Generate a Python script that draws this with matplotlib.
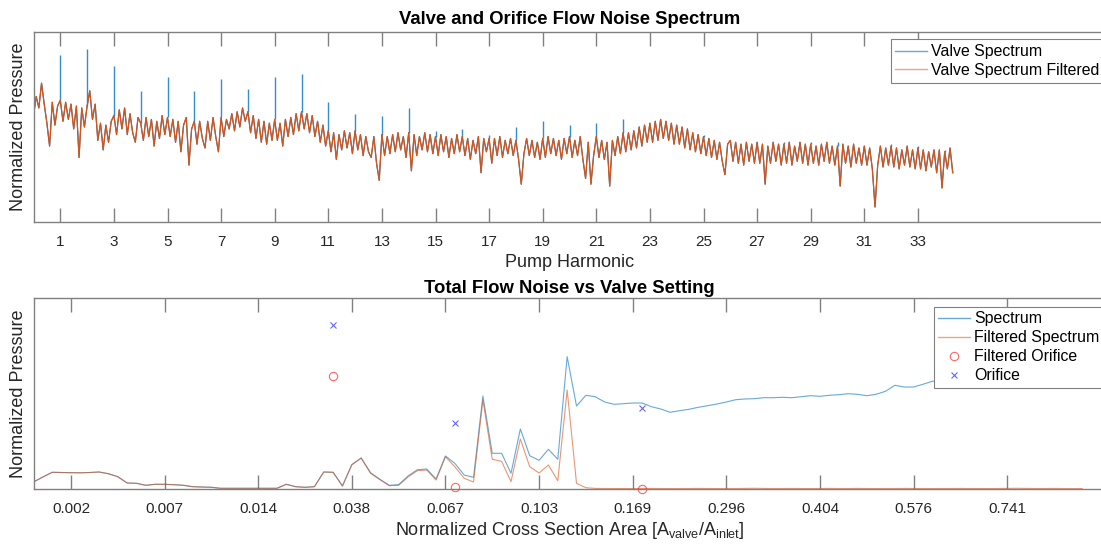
import numpy as np
import matplotlib.pyplot as plt

plt.rcParams['font.family'] = ['Liberation Sans', 'DejaVu Sans']
plt.rcParams['mathtext.fontset'] = 'custom'
plt.rcParams['mathtext.rm'] = 'Liberation Sans'
plt.rcParams['mathtext.it'] = 'Liberation Sans:italic'

# ---- top panel: filtered spectrum sampled every 0.1 pump harmonic (one row per harmonic)
harmonic_step = 0.1
valve_filtered = [
    0.56, 0.66, 0.60, 0.73, 0.62, 0.52, 0.40, 0.63, 0.51, 0.61,
    0.64, 0.53, 0.63, 0.54, 0.62, 0.49, 0.61, 0.34, 0.60, 0.50,
    0.61, 0.69, 0.54, 0.62, 0.43, 0.52, 0.38, 0.51, 0.42, 0.53,
    0.56, 0.46, 0.59, 0.49, 0.60, 0.46, 0.57, 0.47, 0.42, 0.55,
    0.52, 0.43, 0.55, 0.45, 0.54, 0.40, 0.53, 0.44, 0.56, 0.46,
    0.55, 0.45, 0.54, 0.42, 0.53, 0.37, 0.51, 0.55, 0.30, 0.49,
    0.53, 0.41, 0.53, 0.44, 0.39, 0.53, 0.43, 0.55, 0.45, 0.37,
    0.55, 0.45, 0.54, 0.49, 0.57, 0.48, 0.58, 0.50, 0.60, 0.53,
    0.58, 0.47, 0.56, 0.44, 0.54, 0.42, 0.53, 0.41, 0.52, 0.43,
    0.54, 0.43, 0.52, 0.40, 0.54, 0.45, 0.55, 0.46, 0.57, 0.48,
    0.58, 0.49, 0.57, 0.47, 0.56, 0.45, 0.53, 0.42, 0.51, 0.40,
    0.48, 0.37, 0.47, 0.33, 0.46, 0.38, 0.48, 0.39, 0.47, 0.36,
    0.48, 0.38, 0.46, 0.35, 0.45, 0.37, 0.34, 0.45, 0.31, 0.22,
    0.46, 0.35, 0.45, 0.36, 0.46, 0.37, 0.47, 0.38, 0.45, 0.34,
    0.47, 0.27, 0.46, 0.35, 0.45, 0.38, 0.47, 0.37, 0.46, 0.36,
    0.45, 0.35, 0.46, 0.37, 0.45, 0.34, 0.44, 0.36, 0.46, 0.37,
    0.45, 0.35, 0.44, 0.33, 0.43, 0.36, 0.45, 0.26, 0.44, 0.37,
    0.44, 0.31, 0.44, 0.35, 0.45, 0.34, 0.43, 0.36, 0.44, 0.35,
    0.43, 0.33, 0.20, 0.36, 0.44, 0.35, 0.43, 0.34, 0.42, 0.33,
    0.44, 0.34, 0.45, 0.36, 0.44, 0.35, 0.43, 0.33, 0.44, 0.36,
    0.45, 0.34, 0.43, 0.35, 0.45, 0.33, 0.23, 0.42, 0.20, 0.35,
    0.45, 0.34, 0.43, 0.33, 0.42, 0.19, 0.43, 0.35, 0.45, 0.36,
    0.47, 0.37, 0.47, 0.38, 0.48, 0.39, 0.50, 0.40, 0.51, 0.42,
    0.52, 0.42, 0.53, 0.43, 0.54, 0.44, 0.53, 0.43, 0.52, 0.41,
    0.51, 0.41, 0.50, 0.39, 0.49, 0.38, 0.47, 0.37, 0.46, 0.36,
    0.45, 0.35, 0.44, 0.34, 0.43, 0.33, 0.42, 0.32, 0.25, 0.41,
    0.43, 0.32, 0.42, 0.31, 0.41, 0.30, 0.42, 0.32, 0.41, 0.31,
    0.42, 0.31, 0.41, 0.20, 0.40, 0.31, 0.42, 0.32, 0.41, 0.30,
    0.41, 0.31, 0.42, 0.30, 0.40, 0.32, 0.42, 0.31, 0.41, 0.30,
    0.41, 0.31, 0.40, 0.30, 0.41, 0.32, 0.42, 0.31, 0.40, 0.30,
    0.40, 0.19, 0.41, 0.31, 0.40, 0.29, 0.41, 0.31, 0.39, 0.30,
    0.40, 0.30, 0.39, 0.28, 0.08, 0.30, 0.40, 0.29, 0.39, 0.30,
    0.40, 0.29, 0.39, 0.28, 0.38, 0.30, 0.40, 0.29, 0.38, 0.28,
    0.39, 0.28, 0.38, 0.27, 0.37, 0.29, 0.38, 0.26, 0.38, 0.18,
    0.37, 0.28, 0.39, 0.26,
]
# tonal peaks of the unfiltered spectrum at each pump harmonic
peak_harmonics = list(range(1, 35))
peak_levels = [
    0.88, 0.91, 0.82, 0.69, 0.76, 0.69, 0.75, 0.70, 0.76, 0.78,
    0.63, 0.57, 0.56, 0.60, 0.48, 0.49, 0.46, 0.50, 0.53, 0.51,
    0.52, 0.54, 0.49, 0.47, 0.46, 0.43, 0.42, 0.42, 0.42, 0.42,
    0.40, 0.41, 0.40, 0.38,
]
harmonic_ticks = list(range(1, 34, 2))

# ---- bottom panel: total noise per valve setting
spectrum_total = [
    7.0, 12.0, 16.7, 16.5, 16.3, 16.2, 16.5, 17.0, 15.3, 12.3,
    6.0, 5.7, 3.7, 4.7, 4.7, 4.3, 3.7, 2.3, 2.0, 1.7,
    0.7, 0.7, 0.7, 0.7, 0.7, 0.7, 0.7, 4.7, 2.3, 1.7,
    2.3, 17.0, 16.7, 3.0, 24.3, 31.0, 16.3, 9.7, 3.7, 4.3,
    13.0, 19.3, 20.0, 10.0, 33.0, 25.7, 14.0, 11.7, 93.0, 35.7,
    35.7, 15.7, 60.0, 33.3, 28.7, 39.7, 29.7, 132.3, 83.0, 93.7,
    92.3, 87.0, 84.7, 85.3, 86.0, 86.0, 82.3, 80.0, 76.7, 78.3,
    79.7, 81.7, 83.3, 85.0, 87.0, 89.3, 90.0, 90.3, 91.3, 91.3,
    91.7, 91.3, 92.3, 93.3, 92.7, 93.7, 94.3, 95.3, 94.7, 93.3,
    94.7, 97.7, 103.7, 102.0, 102.0, 104.7, 107.7, 109.0, 110.0, 112.0,
    111.0, 113.0, 115.0, 114.0, 116.0, 118.0, 117.0, 119.0, 121.0, 120.0,
    122.0, 124.0, 123.0,
]
spectrum_filtered = [
    7.0, 12.0, 16.7, 16.5, 16.3, 16.2, 16.5, 17.0, 15.3, 12.3,
    6.0, 5.7, 3.7, 4.7, 4.7, 4.3, 3.7, 2.3, 2.0, 1.7,
    0.7, 0.7, 0.7, 0.7, 0.7, 0.7, 0.7, 4.7, 2.3, 1.7,
    2.3, 17.0, 16.7, 3.0, 24.3, 31.0, 15.7, 9.3, 3.3, 3.7,
    12.0, 18.3, 19.0, 9.0, 32.3, 22.3, 10.7, 7.0, 89.0, 29.7,
    27.7, 7.3, 50.0, 22.3, 16.0, 24.0, 8.3, 99.0, 5.7, 1.3,
    0.6, 0.5, 0.5, 0.5, 0.4, 0.5, 0.6, 0.5, 0.4, 0.5,
    0.5, 0.6, 0.5, 0.4, 0.5, 0.5, 0.6, 0.7, 0.6, 0.5,
    0.5, 0.6, 0.5, 0.4, 0.5, 0.6, 0.5, 0.5, 0.6, 0.5,
    0.4, 0.5, 0.5, 0.6, 0.5, 0.5, 0.4, 0.5, 0.5, 0.6,
    0.5, 0.5, 0.4, 0.5, 0.6, 0.7, 0.6, 0.5, 0.5, 0.6,
    0.5, 0.4, 0.5,
]
orifice_index = [33, 46, 66]
orifice_level = [163.7, 66.3, 81.3]
orifice_filtered_level = [113.0, 2.3, 0.3]
setting_tick_index = [5, 15, 25, 35, 45, 55, 65, 75, 85, 95, 105]
setting_tick_labels = ['0.002', '0.007', '0.014', '0.038', '0.067', '0.103',
                       '0.169', '0.296', '0.404', '0.576', '0.741']

BLUE = '#0072BD'
ORANGE = '#D95319'
LIGHT_BLUE = '#66A8D8'
LIGHT_ORANGE = '#EDA486'
AXIS_GRAY = '#808080'
TEXT_GRAY = '#262626'

W, H = 1101, 544
fig = plt.figure(figsize=(W / 100, H / 100), dpi=100)


def px_axes(left, top, right, bottom):
    return fig.add_axes([left / W, 1 - bottom / H, (right - left) / W, (bottom - top) / H])


def style_axes(ax, pad):
    for side in ['left', 'top', 'bottom', 'right']:
        ax.spines[side].set_color(AXIS_GRAY)
        ax.spines[side].set_linewidth(1.0)
    ax.tick_params(axis='x', direction='in', length=10, width=1.0, color=AXIS_GRAY,
                   top=True, labelsize=11, labelcolor=TEXT_GRAY, pad=pad)
    ax.set_yticks([])


def style_legend(leg, line_colors):
    leg.get_frame().set_edgecolor(AXIS_GRAY)
    leg.get_frame().set_linewidth(0.8)
    for line, c in zip(leg.get_lines(), line_colors):
        if c is not None:
            line.set_color(c)
            line.set_alpha(1)
            line.set_linewidth(1.0)


# ---- top panel
ax1 = px_axes(33.5, 31.7, 1105.5, 222.3)
filtered = np.array(valve_filtered)
harmonic = np.arange(len(filtered)) * harmonic_step
peak_pos = np.array(peak_harmonics) * 10
peak_base = filtered[peak_pos]
peak_top = np.maximum(peak_base, peak_levels)

ax1.plot(harmonic, filtered, color=BLUE, lw=0.8, label='Valve Spectrum')
ax1.vlines(peak_harmonics, peak_base, peak_top, color=BLUE, lw=1.0, alpha=0.8)
ax1.plot(harmonic, filtered, color=ORANGE, lw=0.9, label='Valve Spectrum Filtered')
ax1.set_xlim(0, 40)
ax1.set_ylim(0, 1)
ax1.set_xticks(harmonic_ticks)
style_axes(ax1, 9)
ax1.set_xlabel('Pump Harmonic', fontsize=13, color=TEXT_GRAY, labelpad=4)
ax1.set_ylabel('Normalized Pressure', fontsize=13, color=TEXT_GRAY, labelpad=5)
ax1.set_title('Valve and Orifice Flow Noise Spectrum', fontsize=13.3, fontweight='bold', pad=5.5)
leg1 = ax1.legend(loc='upper right', bbox_to_anchor=(1104 / W, 1 - 39.3 / H),
                  bbox_transform=fig.transFigure, borderaxespad=0, fontsize=11.4,
                  handlelength=2.0, handletextpad=0.25, labelspacing=0.25,
                  borderpad=0.3, fancybox=False, framealpha=1)
style_legend(leg1, [LIGHT_BLUE, LIGHT_ORANGE])

# ---- bottom panel
ax2 = px_axes(33.5, 298, 1105.5, 489)
setting_index = np.arange(1, len(spectrum_total) + 1)
ax2.plot(setting_index, spectrum_total, color=BLUE, lw=0.8, alpha=0.6, label='Spectrum')
ax2.plot(setting_index, spectrum_filtered, color=ORANGE, lw=0.8, alpha=0.6, label='Filtered Spectrum')
ax2.plot(orifice_index, orifice_filtered_level, 'o', color='red', alpha=0.6, ms=6,
         mfc='none', mew=0.8, clip_on=False, label='Filtered Orifice')
ax2.plot(orifice_index, orifice_level, 'x', color='blue', alpha=0.6, ms=4.5,
         mew=0.8, clip_on=False, label='Orifice')
ax2.set_xlim(1, 115.5)
ax2.set_ylim(0, 191)
ax2.set_xticks(setting_tick_index)
ax2.set_xticklabels(setting_tick_labels)
style_axes(ax2, 9.5)
ax2.set_xlabel(r'Normalized Cross Section Area [A$_{\mathrm{valve}}$/A$_{\mathrm{inlet}}$]',
               fontsize=13, color=TEXT_GRAY, labelpad=3)
ax2.set_ylabel('Normalized Pressure', fontsize=13, color=TEXT_GRAY, labelpad=5)
ax2.set_title('Total Flow Noise vs Valve Setting', fontsize=13.3, fontweight='bold', pad=3.5)
leg2 = ax2.legend(loc='upper right', bbox_to_anchor=(1104 / W, 1 - 306.7 / H),
                  bbox_transform=fig.transFigure, borderaxespad=0, fontsize=11.4,
                  handlelength=2.0, handletextpad=0.25, labelspacing=0.25,
                  borderpad=0.3, fancybox=False, framealpha=1)
style_legend(leg2, [LIGHT_BLUE, LIGHT_ORANGE, None, None])

fig.savefig('out.png', dpi=100)
